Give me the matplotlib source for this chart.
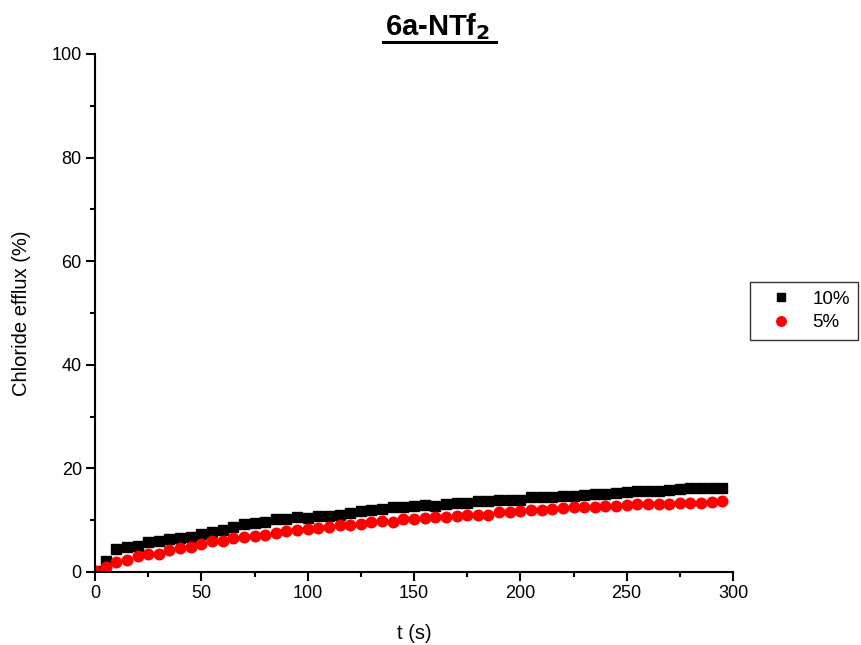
import numpy as np
import matplotlib
matplotlib.use("Agg")
import matplotlib.pyplot as plt
from matplotlib.ticker import MultipleLocator

# ── data ───────────────────────────────────────────────────────────────
t = np.arange(0, 300, 5)

efflux_10 = [0.2, 2.2, 4.4, 4.8, 5.0, 5.7, 5.9, 6.3, 6.6, 6.8,
             7.3, 7.8, 8.2, 8.7, 9.3, 9.5, 9.7, 10.2, 10.2, 10.7,
             10.5, 10.8, 10.9, 11.0, 11.4, 11.7, 12.0, 12.2, 12.5, 12.5,
             12.8, 13.0, 12.8, 13.2, 13.3, 13.3, 13.8, 13.8, 13.9, 13.9,
             13.9, 14.4, 14.4, 14.5, 14.7, 14.7, 14.9, 15.0, 15.0, 15.3,
             15.4, 15.6, 15.6, 15.6, 15.8, 16.0, 16.2, 16.2, 16.2, 16.3]

efflux_5 = [0.25, 0.9, 1.9, 2.4, 3.0, 3.4, 3.5, 4.2, 4.6, 4.9,
            5.5, 5.9, 6.0, 6.5, 6.8, 7.0, 7.2, 7.5, 7.9, 8.2,
            8.3, 8.4, 8.7, 9.0, 9.1, 9.3, 9.65, 9.8, 9.7, 10.2,
            10.3, 10.5, 10.6, 10.7, 10.9, 11.1, 11.1, 11.1, 11.5, 11.6,
            11.8, 12.0, 12.0, 12.2, 12.4, 12.5, 12.5, 12.6, 12.7, 12.7,
            12.9, 13.1, 13.2, 13.2, 13.2, 13.3, 13.4, 13.4, 13.5, 13.7]

labels = ["10%", "5%"]

# ── plotting ───────────────────────────────────────────────────────────
plt.rcParams["font.family"] = ["Liberation Sans", "DejaVu Sans"]

fig = plt.figure(figsize=(8.61, 6.45), dpi=100)
ax = fig.add_axes([95 / 861, 73 / 645, 638 / 861, 518 / 645])

ax.plot(t, efflux_10, linestyle="none", marker="s", color="black",
        markersize=7.0, label=labels[0])
ax.plot(t, efflux_5, linestyle="none", marker="o", color="#ff0000",
        markersize=7.6, label=labels[1])

ax.set_xlim(0, 300)
ax.set_ylim(0, 100)
ax.xaxis.set_major_locator(MultipleLocator(50))
ax.xaxis.set_minor_locator(MultipleLocator(25))
ax.yaxis.set_major_locator(MultipleLocator(20))
ax.yaxis.set_minor_locator(MultipleLocator(10))

for side in ("top", "right"):
    ax.spines[side].set_visible(False)
for side in ("left", "bottom"):
    ax.spines[side].set_linewidth(1.5)

ax.tick_params(which="major", direction="out", length=6.5, width=1.5,
               labelsize=13, pad=3)
ax.tick_params(which="minor", direction="out", length=3.5, width=1.5)

ax.set_xlabel("t (s)", fontsize=14.5, labelpad=16)
ax.set_ylabel("Chloride efflux (%)", fontsize=14.5, labelpad=15)

# title with subscript, underlined
fig.text(438 / 861, 1 - 35 / 645, r"6a-NTf$_\mathbf{2}$",
         ha="center", va="baseline", fontsize=21, fontweight="bold")
fig.add_artist(plt.Line2D([383 / 861, 496 / 861],
                          [1 - 42 / 645, 1 - 42 / 645],
                          color="black", linewidth=2.2))

leg = fig.legend(loc="upper left", bbox_to_anchor=(750 / 861, 1 - 282 / 645),
                 frameon=True, fancybox=False, edgecolor="black",
                 fontsize=13.5, handletextpad=0.43, borderpad=0.45,
                 borderaxespad=0, labelspacing=0.35, handlelength=2.45,
                 markerscale=0.9)
leg.get_frame().set_linewidth(1.0)

fig.savefig("out.png", dpi=100)
